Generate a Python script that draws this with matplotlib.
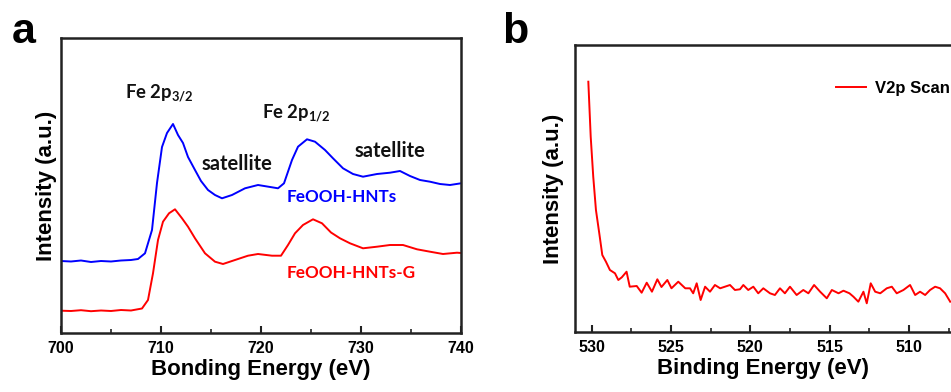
import matplotlib
matplotlib.use("Agg")
import matplotlib.pyplot as plt
from matplotlib.ticker import MultipleLocator

# ---------------- data ----------------
# Panel a: Fe 2p spectra
fe_blue_energy = [700.0, 701.0, 702.0, 703.0, 704.0, 705.0, 706.0, 707.0, 707.7, 708.4,
                  709.1, 709.6, 710.1, 710.6, 711.2, 711.7, 712.2, 712.7, 713.4, 714.0,
                  714.7, 715.4, 716.1, 717.1, 718.4, 719.7, 721.1, 721.7, 722.3, 723.1,
                  723.7, 724.6, 725.4, 726.4, 727.2, 728.2, 729.2, 730.2, 731.6, 732.9,
                  733.9, 734.9, 735.9, 736.9, 737.9, 738.9, 740.0]
fe_blue_intensity = [72, 71.5, 72.5, 71, 72, 71.5, 72.5, 73, 74, 79.7,
                     103, 150, 186, 200, 209, 198, 190, 176, 163, 152,
                     143, 138, 134.7, 138, 144.7, 148, 145.7, 144.7, 149.7, 173,
                     186.3, 193.7, 191.3, 183, 174.7, 164.7, 159, 156.3, 159, 160.3,
                     162, 157, 153, 151.3, 149, 148, 149.7]

fe_red_energy = [700.0, 701.0, 702.0, 703.0, 704.0, 705.0, 706.0, 707.0, 708.1, 708.7,
                 709.2, 709.7, 710.2, 710.8, 711.4, 712.1, 712.7, 713.4, 714.4, 715.4,
                 716.2, 717.4, 718.7, 719.7, 721.1, 722.0, 722.7, 723.4, 724.2, 725.2,
                 726.1, 727.0, 727.9, 728.9, 730.2, 731.6, 732.9, 734.2, 735.6, 736.9,
                 738.2, 739.6, 740.0]
fe_red_intensity = [22.3, 22, 22.8, 21.8, 22.5, 22, 23, 22.5, 24.5, 33,
                    59.7, 93, 111.3, 119.7, 123.7, 114.7, 106.3, 94.7, 79.7, 71.3,
                    69, 73, 77.3, 79, 77.3, 77.3, 88, 99.7, 108, 113.7,
                    109.7, 100.5, 94.7, 89.7, 84.7, 86.3, 88, 88, 83.7, 81.3,
                    79, 80.3, 80]

# Panel b: V2p scan
v_energy = [530.21, 530.06, 529.9, 529.73, 529.52, 529.33, 529.1, 528.85, 528.53, 528.32,
            528.1, 527.8, 527.6, 527.16, 526.85, 526.53, 526.2, 525.86, 525.6, 525.23,
            524.97, 524.54, 524.1, 523.8, 523.6, 523.38, 523.13, 522.85, 522.54, 522.23,
            521.9, 521.6, 521.28, 520.97, 520.65, 520.44, 520.13, 519.81, 519.5, 519.18,
            518.76, 518.45, 518.13, 517.82, 517.5, 517.08, 516.66, 516.34, 515.98, 515.6,
            515.18, 514.86, 514.44, 514.13, 513.75, 513.5, 513.19, 512.87, 512.66, 512.41,
            512.13, 511.81, 511.4, 511.08, 510.77, 510.35, 509.93, 509.61, 509.3, 508.98,
            508.67, 508.35, 508.04, 507.72, 507.4]
v_intensity = [250.3, 195.3, 155.3, 122, 98.7, 77, 70.3, 62, 58.7, 52,
               54.7, 60.3, 45.3, 46, 39.3, 49.3, 40.3, 52.7, 45, 52,
               43.7, 50.3, 43.7, 43.7, 38.7, 48.7, 32, 45.3, 40.3, 47,
               43.7, 45.3, 47, 42, 42.7, 47, 42, 45.3, 38.7, 43.7,
               38.7, 37, 43.7, 38.7, 45.3, 37, 42, 38.7, 47, 40.3,
               33.7, 42, 38.7, 41.3, 38.7, 35.3, 30.3, 40.3, 28.7, 48.7,
               40.3, 38.7, 43.7, 45.3, 38.7, 42, 47, 37, 40.3, 37,
               42, 45.3, 43.7, 38.7, 30.3]

xticks_a = [700, 710, 720, 730, 740]
xticks_b = [530, 525, 520, 515, 510]

# ---------------- figure ----------------
W, H = 951, 392
fig = plt.figure(figsize=(W / 100, H / 100), dpi=100)

axis_font = "Liberation Sans"
anno_font = "Lato"
spine_col = "#222222"


def px_axes(l, t, r, b):
    return fig.add_axes([l / W, (H - b) / H, (r - l) / W, (b - t) / H])


def style(ax):
    for s in ax.spines.values():
        s.set_linewidth(1.8)
        s.set_color(spine_col)
    ax.set_yticks([])
    ax.tick_params(axis="x", which="major", direction="in", length=5, width=1.5,
                   color=spine_col, pad=6, labelsize=11.5)
    ax.tick_params(axis="x", which="minor", direction="in", length=3, width=1.2,
                   color=spine_col)
    for lab in ax.get_xticklabels():
        lab.set_fontfamily(axis_font)
        lab.set_fontweight("bold")


# ---- panel a ----
axa = px_axes(61, 38, 461, 333)
axa.plot(fe_blue_energy, fe_blue_intensity, color="#0000ff", lw=1.4)
axa.plot(fe_red_energy, fe_red_intensity, color="#ff0000", lw=1.4)
axa.set_xlim(700, 740)
axa.set_ylim(0, 295)
axa.set_xticks(xticks_a)
axa.xaxis.set_minor_locator(MultipleLocator(5))
style(axa)
axa.set_xlabel("Bonding Energy (eV)", fontsize=16, fontweight="bold",
               fontfamily=axis_font, labelpad=2)
axa.set_ylabel("Intensity (a.u.)", fontsize=16, fontweight="bold",
               fontfamily=axis_font, labelpad=3)

afont = dict(fontfamily=anno_font, fontweight="bold", va="baseline", ha="left")
axa.text(706.4, 234, r"Fe 2p$\mathregular{_{3/2}}$", fontsize=13.3, color="#111111", **afont)
axa.text(720.1, 214, r"Fe 2p$\mathregular{_{1/2}}$", fontsize=13.3, color="#111111", **afont)
axa.text(714.1, 163, "satellite", fontsize=14.5, color="#111111", **afont)
axa.text(729.4, 176.3, "satellite", fontsize=14.5, color="#111111", **afont)
axa.text(722.6, 131.3, "FeOOH-HNTs", fontsize=12.3, color="#0000ff", **afont)
axa.text(722.6, 54.7, "FeOOH-HNTs-G", fontsize=12.3, color="#ff0000", **afont)

# ---- panel b ----
axb = px_axes(575, 45, 951, 332)
axb.plot(v_energy, v_intensity, color="#ff0000", lw=1.4, label="V2p Scan")
axb.set_xlim(531.05, 507.35)
axb.set_ylim(0, 287)
axb.set_xticks(xticks_b)
axb.xaxis.set_minor_locator(MultipleLocator(2.5))
style(axb)
axb.spines["right"].set_visible(False)
axb.set_xlabel("Binding Energy (eV)", fontsize=16, fontweight="bold",
               fontfamily=axis_font, labelpad=2)
axb.set_ylabel("Intensity (a.u.)", fontsize=16, fontweight="bold",
               fontfamily=axis_font, labelpad=8)
leg = axb.legend(loc="center left", bbox_to_anchor=((836 - 575) / 376, (332 - 88) / 287),
                 frameon=False, borderpad=0, borderaxespad=0, handlelength=1.8,
                 handletextpad=0.55,
                 prop=dict(family=axis_font, weight="bold", size=12))

# panel letters
fig.text(12 / W, (H - 43) / H, "a", fontsize=31, fontweight="bold",
         fontfamily=axis_font, va="baseline", ha="left")
fig.text(502 / W, (H - 43) / H, "b", fontsize=31, fontweight="bold",
         fontfamily=axis_font, va="baseline", ha="left")

fig.savefig("out.png", dpi=100)
